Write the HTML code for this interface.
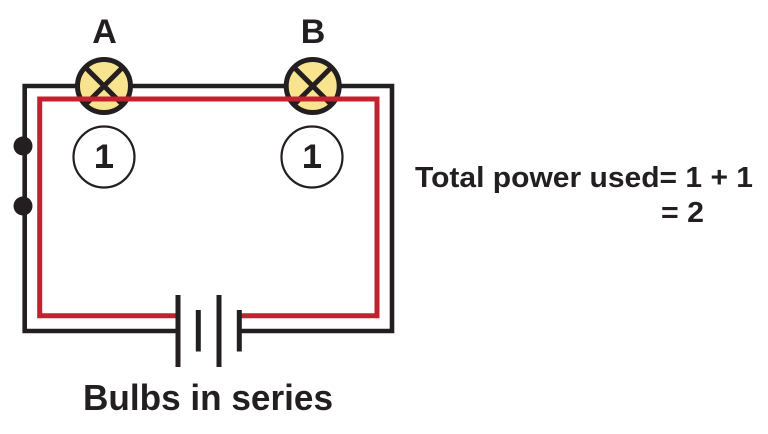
<!DOCTYPE html>
<html><head><meta charset="utf-8"><style>html,body{margin:0;padding:0;background:#fff}svg{display:block}text{font-family:"Liberation Sans",sans-serif;font-weight:bold;fill:#231f20}</style></head><body>
<svg width="768" height="434" viewBox="0 0 768 434" xmlns="http://www.w3.org/2000/svg">
<path d="M178 331H24.7V86H392V331H239" fill="none" stroke="#231f20" stroke-width="4.6"/>
<circle cx="23" cy="146" r="9.5" fill="#231f20"/>
<circle cx="23" cy="206" r="9.5" fill="#231f20"/>
<g stroke="#231f20" stroke-width="5">
<circle cx="104" cy="86" r="26.5" fill="#f8e38f"/>
<path d="M85 67L123 105M123 67L85 105" fill="none"/>
<circle cx="312.7" cy="86" r="26.5" fill="#f8e38f"/>
<path d="M293.7 67L331.7 105M331.7 67L293.7 105" fill="none"/>
</g>
<path d="M178 315.7H39.7V99H377V315.7H240" fill="none" stroke="#c4202f" stroke-width="5"/>
<circle cx="104" cy="157" r="30.5" fill="#fff" stroke="#231f20" stroke-width="2.2"/>
<circle cx="312" cy="157" r="30.5" fill="#fff" stroke="#231f20" stroke-width="2.2"/>
<g stroke="#231f20" stroke-width="5" fill="none">
<path d="M178 295V367M198.300 310V351.500M219 295V367M239.300 310V351.500"/>
</g>
<text x="104.500" y="43" font-size="34" text-anchor="middle">A</text>
<text x="313" y="43" font-size="34" text-anchor="middle">B</text>
<text x="104" y="168" font-size="34" text-anchor="middle">1</text>
<text x="312" y="168" font-size="34" text-anchor="middle">1</text>
<rect x="96" y="164" width="17" height="4" fill="#231f20"/>
<rect x="304" y="164" width="17" height="4" fill="#231f20"/>
<text x="415" y="187" font-size="29" textLength="338" lengthAdjust="spacingAndGlyphs">Total power used= 1 + 1</text>
<text x="661" y="222" font-size="29" textLength="43" lengthAdjust="spacingAndGlyphs">= 2</text>
<text x="83" y="410" font-size="36" textLength="250" lengthAdjust="spacingAndGlyphs">Bulbs in series</text>
</svg>
</body></html>
